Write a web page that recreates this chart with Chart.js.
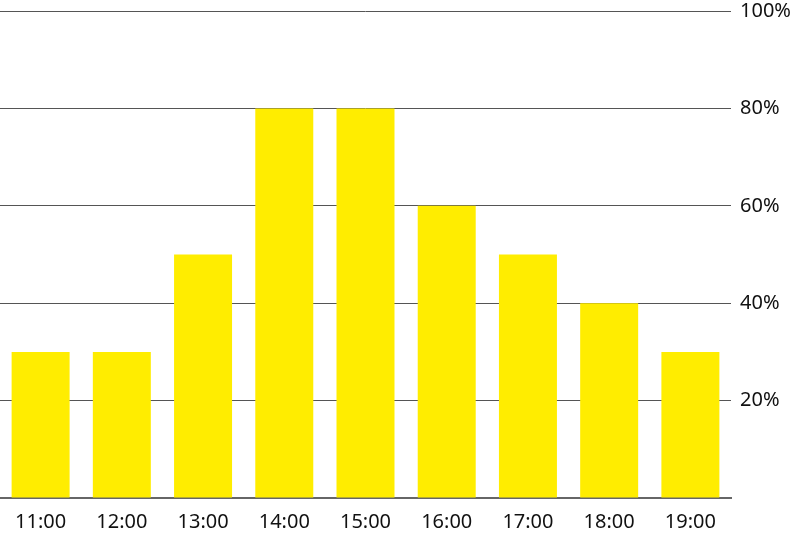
<!DOCTYPE html>
<html>
<head>
<meta charset="utf-8">
<script src="https://cdn.jsdelivr.net/npm/chart.js@4"></script>
<style>
html,body{margin:0;padding:0;background:#fff;}
#wrap{width:800px;height:539px;position:relative;}
</style>
</head>
<body>
<div id="wrap"><canvas id="c" width="800" height="539"></canvas></div>
<script>
const categories = ["11:00","12:00","13:00","14:00","15:00","16:00","17:00","18:00","19:00"];
const values = [30,30,50,80,80,60,50,40,30];
const yTicks = [0,20,40,60,80,100];

new Chart(document.getElementById('c'), {
  type: 'bar',
  data: {
    labels: categories,
    datasets: [{
      data: values,
      backgroundColor: '#FFED00',
      borderWidth: 0,
      barPercentage: 0.714,
      categoryPercentage: 1.0
    }]
  },
  options: {
    responsive: false,
    animation: false,
    layout: { padding: { top: 0, left: 0, right: 0, bottom: 0 } },
    plugins: { legend: { display: false }, tooltip: { enabled: false } },
    scales: {
      x: {
        grid: { display: false, drawTicks: false },
        border: { display: true, color: '#666', width: 2 },
        ticks: { color: '#111', font: { family: 'Noto Sans', size: 20 }, padding: 12, maxRotation: 0 },
        afterFit: s => { s.height = 41; s.paddingLeft = 0; s.paddingRight = 0; }
      },
      y: {
        position: 'right',
        min: 0, max: 100,
        afterBuildTicks: s => { s.ticks = yTicks.map(v => ({ value: v })); },
        grid: { color: '#555', lineWidth: 1, drawTicks: false },
        border: { display: false },
        ticks: {
          color: '#111',
          font: { family: 'Noto Sans', size: 20 },
          padding: 9,
          callback: v => v === 0 ? '' : v + '%'
        },
        afterFit: s => { s.width = 69; s.paddingTop = 11; s.paddingBottom = 0; }
      }
    }
  }
});
</script>
</body>
</html>
